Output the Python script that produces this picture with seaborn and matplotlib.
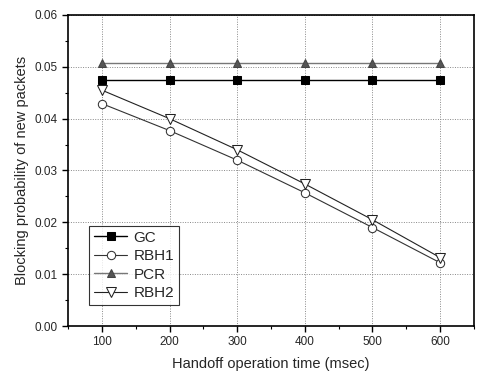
import matplotlib
matplotlib.use("Agg")
import matplotlib.pyplot as plt
import seaborn as sns
import pandas as pd
from matplotlib.ticker import MultipleLocator

handoff_time = [100, 200, 300, 400, 500, 600]
gc = [0.0475, 0.0475, 0.0475, 0.0475, 0.0475, 0.0475]
rbh1 = [0.0429, 0.0377, 0.0320, 0.0257, 0.0190, 0.0122]
pcr = [0.0507, 0.0507, 0.0507, 0.0507, 0.0507, 0.0507]
rbh2 = [0.0455, 0.0400, 0.0340, 0.0274, 0.0205, 0.0132]
series_names = ["GC", "RBH1", "PCR", "RBH2"]

sns.set_style("ticks")
plt.rcParams['font.family'] = ['Liberation Sans', 'DejaVu Sans']

fig = plt.figure(figsize=(4.81, 3.74), dpi=100)
ax = fig.add_axes([0.1414, 0.1283, 0.8440, 0.8317])

styles = {
    "GC": dict(marker="s", color="black", markerfacecolor="black", markeredgecolor="black", linewidth=1.0, markersize=6),
    "RBH1": dict(marker="o", color="#333333", markerfacecolor="white", markeredgecolor="#333333", linewidth=0.8, markersize=6),
    "PCR": dict(marker="^", color="#777777", markerfacecolor="#555555", markeredgecolor="#444444", linewidth=1.0, markersize=6),
    "RBH2": dict(marker="v", color="#222222", markerfacecolor="white", markeredgecolor="#222222", linewidth=0.8, markersize=7),
}
for name, vals in zip(series_names, [gc, rbh1, pcr, rbh2]):
    df = pd.DataFrame({"x": handoff_time, "y": vals})
    sns.lineplot(data=df, x="x", y="y", ax=ax, label=name, **styles[name])

ax.set_xlim(50, 650)
ax.set_ylim(0, 0.06)
ax.xaxis.set_major_locator(MultipleLocator(100))
ax.xaxis.set_minor_locator(MultipleLocator(50))
ax.yaxis.set_major_locator(MultipleLocator(0.01))
ax.yaxis.set_minor_locator(MultipleLocator(0.005))
ax.set_yticklabels([f"{v:.2f}" for v in ax.get_yticks()])
ax.grid(True, which="major", linestyle=(0, (1, 1.5)), color="#888888", linewidth=0.7)
ax.tick_params(axis="both", which="major", direction="out", length=4, width=1, labelsize=8.5, color="black")
ax.tick_params(axis="both", which="minor", direction="out", length=2.5, width=0.8, color="black")
for s in ax.spines.values():
    s.set_linewidth(1.2)
    s.set_color("black")
    s.set_visible(True)

ax.set_xlabel("Handoff operation time (msec)", fontsize=10.5, labelpad=6)
ax.set_ylabel("Blocking probability of new packets", fontsize=10.5, labelpad=4)

leg = ax.legend(loc="lower left", bbox_to_anchor=(0.052, 0.068), fontsize=11, frameon=True,
                fancybox=False, edgecolor="black", handlelength=2.2, handletextpad=0.4,
                borderpad=0.3, labelspacing=0.3, borderaxespad=0)
leg.get_frame().set_linewidth(0.8)

fig.savefig("out.png", dpi=100)
